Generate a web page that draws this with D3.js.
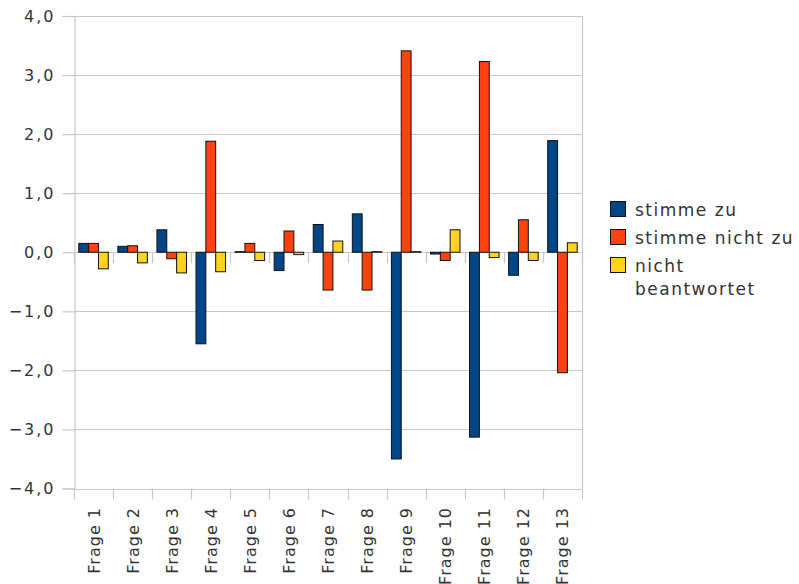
<!DOCTYPE html>
<html>
<head>
<meta charset="utf-8">
<script src="https://cdn.jsdelivr.net/npm/d3@7"></script>
<style>
body { margin: 0; background: #fff; }
text { font-family: "DejaVu Sans", sans-serif; fill: #333; }
</style>
</head>
<body>
<script>
// Daten
var fragen = ["Frage 1","Frage 2","Frage 3","Frage 4","Frage 5","Frage 6","Frage 7","Frage 8","Frage 9","Frage 10","Frage 11","Frage 12","Frage 13"];
var stimmeZu      = [0.15, 0.10, 0.38, -1.55, 0.01, -0.31, 0.47, 0.65, -3.50, -0.03, -3.13, -0.39, 1.89];
var stimmeNichtZu = [0.15, 0.11, -0.11, 1.88, 0.15, 0.36, -0.64, -0.64, 3.41, -0.14, 3.23, 0.55, -2.04];
var nichtBeantw   = [-0.28, -0.18, -0.35, -0.33, -0.14, -0.04, 0.19, 0.01, 0.01, 0.38, -0.09, -0.14, 0.16];
var serien = ["stimme zu", "stimme nicht zu", "nicht beantwortet"];
var farben = ["#004586", "#ff420e", "#ffd320"];
var yTicks = [-4, -3, -2, -1, 0, 1, 2, 3, 4];

var werte = [stimmeZu, stimmeNichtZu, nichtBeantw];
var data = fragen.map(function(f, i){
	return { frage: f, v: werte.map(function(s){ return s[i]; }) };
});

// Plotbereich (nicht "top" nennen, kollidiert mit window.top)
var pLeft = 74, pRight = 582, pTop = 16, pBottom = 488.5;

var svg = d3.select("body").append("svg").attr("width", 799).attr("height", 584);

var x = d3.scaleBand().domain(fragen).range([pLeft, pRight]).paddingInner(0.245).paddingOuter(0.1225);
var x1 = d3.scaleBand().domain([0,1,2]).range([0, x.bandwidth()]);
var y = d3.scaleLinear().domain([-4, 4]).range([pBottom, pTop]);
var step = x.step();

// Gitter
svg.append("g").selectAll("line").data(yTicks).enter().append("line")
	.attr("x1", pLeft).attr("x2", pRight)
	.attr("y1", function(d){ return Math.round(y(d)) + 0.5; })
	.attr("y2", function(d){ return Math.round(y(d)) + 0.5; })
	.attr("stroke", "#c8c8c8").attr("stroke-width", 1.2);

// rechter Rand
svg.append("line").attr("x1", pRight + 0.5).attr("x2", pRight + 0.5).attr("y1", pTop).attr("y2", pBottom)
	.attr("stroke", "#c8c8c8").attr("stroke-width", 1.2);

// y-Achse
var yAxis = d3.axisLeft(y).tickValues(yTicks).tickSize(12).tickPadding(7)
	.tickFormat(function(d){ return d3.format(".1f")(d).replace(".", ",").replace("-", "\u2212").replace("\u2212", "\u2212"); });
var gy = svg.append("g").attr("transform", "translate(" + (pLeft + 0.5) + ",0)").call(yAxis);
gy.select(".domain").attr("stroke", "#c8c8c8").attr("stroke-width", 1.2);
gy.selectAll(".tick line").attr("stroke", "#c8c8c8").attr("stroke-width", 1.2);
gy.selectAll(".tick text").attr("font-size", 16).attr("letter-spacing", 2).attr("fill", "#333")
	.attr("font-family", "DejaVu Sans");

// Kategorie-Striche an Null und unten
var grenzen = d3.range(fragen.length + 1).map(function(i){ return pLeft + i * step; });
svg.append("g").selectAll("line").data(grenzen).enter().append("line")
	.attr("x1", function(d){ return Math.round(d) + 0.5; }).attr("x2", function(d){ return Math.round(d) + 0.5; })
	.attr("y1", y(0)).attr("y2", y(0) + 11)
	.attr("stroke", "#c8c8c8").attr("stroke-width", 1.2);
svg.append("g").selectAll("line").data(grenzen).enter().append("line")
	.attr("x1", function(d){ return Math.round(d) + 0.5; }).attr("x2", function(d){ return Math.round(d) + 0.5; })
	.attr("y1", pBottom).attr("y2", pBottom + 11)
	.attr("stroke", "#c8c8c8").attr("stroke-width", 1.2);

// Balken
var gruppe = svg.append("g").selectAll("g").data(data).enter().append("g")
	.attr("transform", function(d){ return "translate(" + x(d.frage) + ",0)"; });
gruppe.selectAll("rect").data(function(d){ return d.v; }).enter().append("rect")
	.attr("x", function(d, i){ return x1(i); })
	.attr("width", x1.bandwidth())
	.attr("y", function(d){ return y(Math.max(0, d)); })
	.attr("height", function(d){ return Math.abs(y(d) - y(0)); })
	.attr("fill", function(d, i){ return farben[i]; })
	.attr("stroke", "#111").attr("stroke-width", 1);

// x-Beschriftung
svg.append("g").selectAll("text").data(fragen).enter().append("text")
	.attr("transform", function(d){ return "translate(" + (x(d) + x.bandwidth() / 2 + 6) + "," + 507 + ") rotate(-90)"; })
	.attr("text-anchor", "end")
	.attr("font-size", 16).attr("letter-spacing", 1)
	.text(function(d){ return d; });

// Legende
var leg = svg.append("g").attr("transform", "translate(610,201)");
var legZeilen = [["stimme zu"], ["stimme nicht zu"], ["nicht", "beantwortet"]];
legZeilen.forEach(function(z, i){
	leg.append("rect").attr("x", 0.5).attr("y", i * 28 + 0.5).attr("width", 15).attr("height", 15)
		.attr("fill", farben[i]).attr("stroke", "#111");
	z.forEach(function(t, j){
		leg.append("text").attr("x", 25).attr("y", i * 28 + 15 + j * 23)
			.attr("font-size", 17).attr("letter-spacing", 1.5).text(t);
	});
});
</script>
</body>
</html>
